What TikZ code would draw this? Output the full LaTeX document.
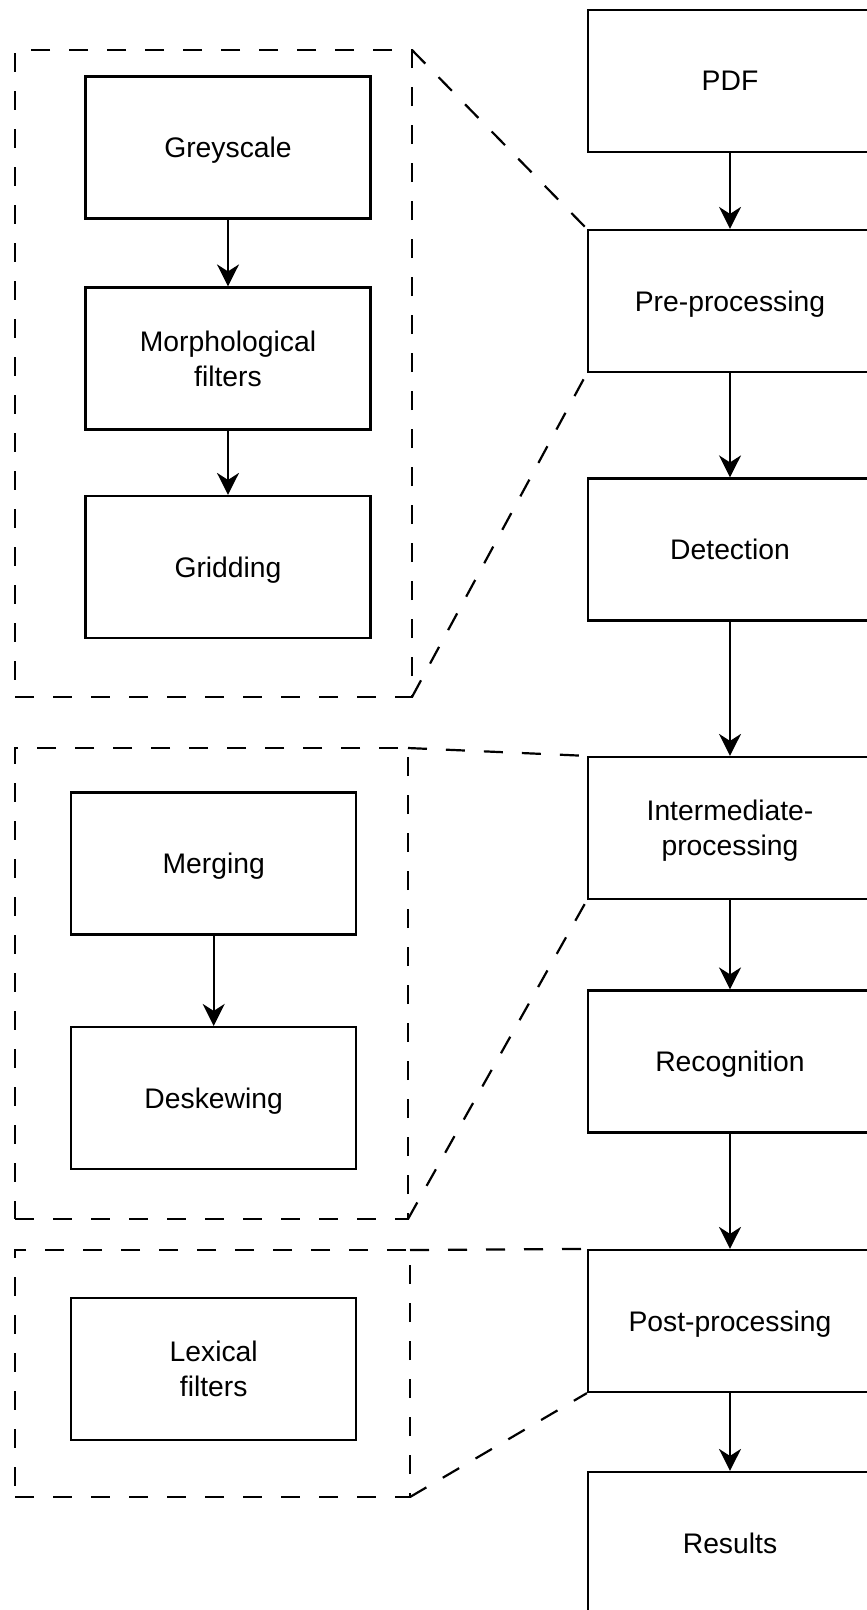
\documentclass[tikz,border=0pt]{standalone}
\usepackage{fontspec}
\setmainfont{Liberation Sans}
\usetikzlibrary{arrows.meta}

\begin{document}
\begin{tikzpicture}[x=1pt,y=1pt,line width=2.2pt]
\tikzstyle{every node}+=[inner sep=0pt, font=\fontsize{28.3}{35}\selectfont]
\tikzstyle{stage}=[draw=black, minimum width=284pt, minimum height=142pt, align=center, text depth=0pt]
\tikzstyle{group}=[draw=black, outer sep=0pt, dash pattern=on 19pt off 19pt]
\tikzstyle{zoomline}=[black, dash pattern=on 19pt off 19pt]
\tikzstyle{flow}=[black, -{Stealth[length=22pt,width=22pt,inset=7pt]}]
\clip (0,0) rectangle (867,-1610);
% main pipeline
\node [stage] (pdf) at (730,-81) {PDF};
\node [stage] (pre) at (730,-301) {Pre-processing};
\node [stage] (det) at (730,-549.5) {Detection};
\node [stage] (inter) at (730,-828) {Intermediate-\\processing};
\node [stage] (rec) at (730,-1061.5) {Recognition};
\node [stage] (post) at (730,-1321) {Post-processing};
\node [stage] (res) at (730,-1543) {Results};
\draw [flow] (pdf) -- (pre);
\draw [flow] (pre) -- (det);
\draw [flow] (det) -- (inter);
\draw [flow] (inter) -- (rec);
\draw [flow] (rec) -- (post);
\draw [flow] (post) -- (res);
% pre-processing steps
\node [group, minimum width=397pt, minimum height=647pt] (pregrp) at (213.5,-373.5) {};
\node [stage, minimum width=285pt] (grey) at (228,-147.5) {Greyscale};
\node [stage, minimum width=285pt] (morph) at (228,-358.5) {Morphological\\filters};
\node [stage, minimum width=285pt] (grid) at (228,-567) {Gridding};
\draw [flow] (grey) -- (morph);
\draw [flow] (morph) -- (grid);
\draw [zoomline] (pregrp.north east) -- (pre.north west);
\draw [zoomline] (pregrp.south east) -- (pre.south west);
% intermediate steps
\node [group, minimum width=393pt, minimum height=471pt] (intergrp) at (211.5,-983.5) {};
\node [stage, minimum width=285pt] (merge) at (213.7,-863.5) {Merging};
\node [stage, minimum width=285pt] (deskew) at (213.7,-1098) {Deskewing};
\draw [flow] (merge) -- (deskew);
\draw [zoomline] (intergrp.north east) -- (inter.north west);
\draw [zoomline] (intergrp.south east) -- (inter.south west);
% post-processing steps
\node [group, minimum width=395pt, minimum height=247pt] (postgrp) at (212.5,-1373.5) {};
\node [stage, minimum width=285pt] (lex) at (213.7,-1368.7) {Lexical\\filters};
\draw [zoomline] (postgrp.north east) -- (post.north west);
\draw [zoomline] (postgrp.south east) -- (post.south west);
\end{tikzpicture}
\end{document}
